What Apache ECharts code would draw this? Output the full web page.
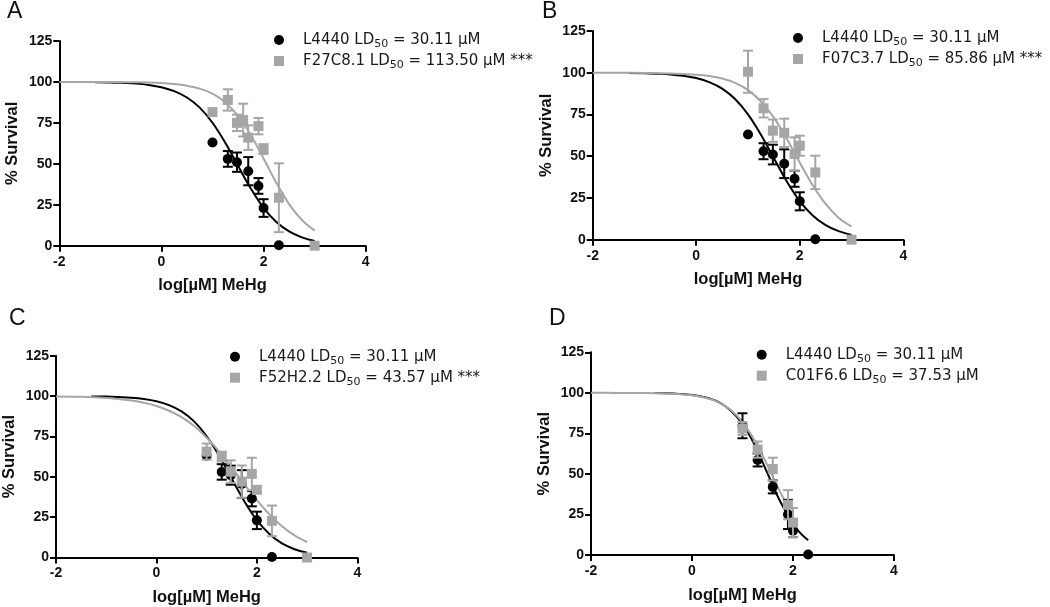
<!DOCTYPE html>
<html>
<head>
<meta charset="utf-8">
<script src="https://cdn.jsdelivr.net/npm/echarts@6/dist/echarts.min.js"></script>
<style>html,body{margin:0;padding:0;background:#fff}#c{width:1050px;height:607px}</style>
</head>
<body>
<div id="c"></div>
<script>
// ---------- tick values ----------
const xTickValues = [-2, 0, 2, 4];
const yTickValues = [0, 25, 50, 75, 100, 125];

// ---------- panel labels / legend texts ----------
const panelLetters = ['A', 'B', 'C', 'D'];
const ctrlName = 'L4440';
const ctrlLD50 = '30.11';
const mutNames = ['F27C8.1', 'F07C3.7', 'F52H2.2', 'C01F6.6'];
const mutLD50 = ['113.50', '85.86', '43.57', '37.53'];
const mutSig = [' ***', ' ***', ' ***', ''];

// ---------- L4440 control data (panels A, B, C) ----------
const ctrlX = [1.0, 1.3, 1.48, 1.7, 1.9, 2.0, 2.3];
const ctrlY = [63, 53, 51, 45.5, 36.5, 23, 0.3];
const ctrlErr = [0, 4.8, 5.9, 8.6, 4.8, 5.4, 0];
const ctrlFitX = [-1.3, -1, -0.75, -0.5, -0.25, 0, 0.25, 0.5, 0.75, 1, 1.25, 1.5, 1.75, 2, 2.25, 2.5, 2.75, 3];
const ctrlFitY = [99.8, 99.7, 99.4, 99.0, 98.2, 96.8, 94.4, 90.5, 84.3, 75.1, 62.9, 48.8, 34.9, 23.1, 14.5, 8.7, 5.1, 2.9];

// ---------- L4440 control data (panel D) ----------
const dCtrlX = [1.0, 1.3, 1.6, 1.9, 2.0, 2.3];
const dCtrlY = [79.7, 58.6, 42, 25, 15, 0.3];
const dCtrlErr = [7.7, 4, 4, 9, 4, 0];
const dCtrlFitX = [-0.75, -0.5, -0.25, 0, 0.25, 0.5, 0.75, 1, 1.25, 1.5, 1.75, 2, 2.15, 2.3];
const dCtrlFitY = [99.85, 99.7, 99.35, 98.7, 97.3, 94.7, 89.6, 80.8, 67.3, 50, 32.8, 19.2, 13.3, 9.1];

// ---------- A: F27C8.1 ----------
const aX = [1.0, 1.3, 1.48, 1.6, 1.7, 1.9, 2.0, 2.3, 3.0];
const aY = [81.6, 89, 75, 76.7, 66, 73, 59, 29.3, 0];
const aErr = [0, 6.5, 5, 10, 7.5, 5, 3, 21, 0];
const aFitX = [-2, -1.5, -1, -0.5, 0, 0.25, 0.5, 0.75, 1, 1.25, 1.5, 1.75, 2, 2.25, 2.5, 2.75, 3];
const aFitY = [100, 99.98, 99.9, 99.8, 99.3, 98.7, 97.7, 95.9, 92.8, 87.5, 79.3, 67.6, 53.3, 38.4, 25.4, 15.7, 9.2];

// ---------- B: F07C3.7 ----------
const bX = [1.0, 1.3, 1.48, 1.7, 1.9, 2.0, 2.3, 3.0];
const bY = [100.6, 78.7, 65.3, 64, 51.3, 56.3, 40.3, 0];
const bErr = [12.6, 5.5, 6.7, 8.5, 10, 6, 10, 0];
const bFitX = [-2, -1.5, -1, -0.5, 0, 0.25, 0.5, 0.75, 1, 1.25, 1.5, 1.75, 2, 2.25, 2.5, 2.75, 3];
const bFitY = [100, 99.96, 99.9, 99.6, 98.8, 98.0, 96.5, 93.9, 89.6, 82.8, 73.1, 60.4, 46.2, 32.6, 21.4, 13.2, 7.9];

// ---------- C: F52H2.2 ----------
const cX = [1.0, 1.3, 1.48, 1.7, 1.9, 2.0, 2.3, 3.0];
const cY = [65.6, 62.5, 53.2, 47, 51.8, 41.9, 22.7, 0];
const cErr = [5, 3, 7, 10, 10, 2, 9.5, 0];
const cFitX = [-2, -1.5, -1, -0.75, -0.5, -0.25, 0, 0.25, 0.5, 0.75, 1, 1.25, 1.5, 1.75, 2, 2.25, 2.5, 2.75, 3];
const cFitY = [99.8, 99.5, 98.8, 98.1, 97.2, 95.8, 93.8, 90.9, 86.9, 81.4, 74.2, 65.6, 55.7, 45.4, 35.5, 26.7, 19.3, 13.7, 9.5];

// ---------- D: C01F6.6 ----------
const dX = [1.0, 1.3, 1.6, 1.9, 2.0];
const dY = [78, 65, 53, 31, 20];
const dErr = [4, 5, 7, 9, 9];
const dFitX = [-2, -1.5, -1, -0.5, 0, 0.25, 0.5, 0.75, 1, 1.25, 1.5, 1.75, 2];
const dFitY = [100, 99.97, 99.9, 99.6, 98.5, 97.1, 94.5, 89.9, 82, 70.2, 54.9, 38.6, 24.4];

// ---------- assemble ----------
const panels = [
  {cx: ctrlX, cy: ctrlY, ce: ctrlErr, cfx: ctrlFitX, cfy: ctrlFitY, mx: aX, my: aY, me: aErr, mfx: aFitX, mfy: aFitY},
  {cx: ctrlX, cy: ctrlY, ce: ctrlErr, cfx: ctrlFitX, cfy: ctrlFitY, mx: bX, my: bY, me: bErr, mfx: bFitX, mfy: bFitY},
  {cx: ctrlX, cy: ctrlY, ce: ctrlErr, cfx: ctrlFitX, cfy: ctrlFitY, mx: cX, my: cY, me: cErr, mfx: cFitX, mfy: cFitY},
  {cx: dCtrlX, cy: dCtrlY, ce: dCtrlErr, cfx: dCtrlFitX, cfy: dCtrlFitY, mx: dX, my: dY, me: dErr, mfx: dFitX, mfy: dFitY}
];

// layout (pixels)
const grids = [
  {left: 59.3, top: 41, width: 306.4, height: 204.7},
  {left: 592.7, top: 31, width: 310.6, height: 208.7},
  {left: 54.3, top: 355.7, width: 303, height: 202},
  {left: 591, top: 352.3, width: 303, height: 202.7}
];
const letterPos = [[7, 0], [542, 0], [9, 307], [549, 307]];
const legendPos = [[274, 32.5], [793, 30.5], [230, 349.2], [756.7, 347.2]];

const BLACK = '#000000';
const GREY = '#a6a6a6';
const FONT = '"Liberation Sans", Arial, sans-serif';

const zip = (xs, ys) => xs.map((x, i) => [x, ys[i]]);
const zip3 = (xs, ys, es) => xs.map((x, i) => [x, ys[i], es[i]]);

function errRender(color) {
  return function (params, api) {
    const x = api.value(0), y = api.value(1), e = api.value(2);
    if (!e) return null;
    const t = api.coord([x, y + e]);
    const b = api.coord([x, y - e]);
    const h = 5;
    const st = {stroke: color, lineWidth: 2};
    return {
      type: 'group',
      children: [
        {type: 'line', shape: {x1: t[0], y1: t[1], x2: b[0], y2: b[1]}, style: st},
        {type: 'line', shape: {x1: t[0] - h, y1: t[1], x2: t[0] + h, y2: t[1]}, style: st},
        {type: 'line', shape: {x1: b[0] - h, y1: b[1], x2: b[0] + h, y2: b[1]}, style: st}
      ]
    };
  };
}

const legendText = {};
const xAxis = [], yAxis = [], series = [], legend = [], title = [];

panels.forEach((p, i) => {
  const L = panelLetters[i];
  const cName = L + '_ctrl', mName = L + '_mut';
  legendText[cName] = '{t|' + ctrlName + ' LD}{s|50}{t| = ' + ctrlLD50 + ' µM}';
  legendText[mName] = '{t|' + mutNames[i] + ' LD}{s|50}{t| = ' + mutLD50[i] + ' µM' + mutSig[i] + '}';

  xAxis.push({
    type: 'value', gridIndex: i,
    min: xTickValues[0], max: xTickValues[xTickValues.length - 1], interval: 2,
    name: 'log[µM] MeHg', nameLocation: 'middle', nameGap: 31.5,
    nameTextStyle: {fontFamily: FONT, fontWeight: 'bold', fontSize: 16.5, color: '#111'},
    axisLine: {show: true, onZero: false, lineStyle: {color: BLACK, width: 2}},
    axisTick: {show: true, length: 6, lineStyle: {color: BLACK, width: 2}},
    axisLabel: {fontFamily: FONT, fontWeight: 'bold', fontSize: 14, color: '#111', margin: 9},
    splitLine: {show: false}
  });
  yAxis.push({
    type: 'value', gridIndex: i,
    min: yTickValues[0], max: yTickValues[yTickValues.length - 1], interval: 25,
    name: '% Survival', nameLocation: 'middle', nameGap: 38,
    nameTextStyle: {fontFamily: FONT, fontWeight: 'bold', fontSize: 16.5, color: '#111'},
    axisLine: {show: true, onZero: false, lineStyle: {color: BLACK, width: 2}},
    axisTick: {show: true, length: 6, lineStyle: {color: BLACK, width: 2}},
    axisLabel: {fontFamily: FONT, fontWeight: 'bold', fontSize: 14, color: '#111', margin: 7},
    splitLine: {show: false}
  });

  series.push({
    name: L + '_ctrl_fit', type: 'line', xAxisIndex: i, yAxisIndex: i, z: 2,
    data: zip(p.cfx, p.cfy), showSymbol: false, symbol: 'none', smooth: 0.35,
    lineStyle: {color: BLACK, width: 2}, silent: true
  });
  series.push({
    name: L + '_mut_fit', type: 'line', xAxisIndex: i, yAxisIndex: i, z: 2,
    data: zip(p.mfx, p.mfy), showSymbol: false, symbol: 'none', smooth: 0.35,
    lineStyle: {color: GREY, width: 2}, silent: true
  });
  series.push({
    name: L + '_ctrl_err', type: 'custom', xAxisIndex: i, yAxisIndex: i, z: 3,
    data: zip3(p.cx, p.cy, p.ce), encode: {x: 0, y: 1}, renderItem: errRender(BLACK), silent: true
  });
  series.push({
    name: cName, type: 'scatter', xAxisIndex: i, yAxisIndex: i, z: 4,
    data: zip(p.cx, p.cy), symbol: 'circle', symbolSize: 10,
    itemStyle: {color: BLACK, opacity: 1}
  });
  series.push({
    name: L + '_mut_err', type: 'custom', xAxisIndex: i, yAxisIndex: i, z: 5,
    data: zip3(p.mx, p.my, p.me), encode: {x: 0, y: 1}, renderItem: errRender(GREY), silent: true
  });
  series.push({
    name: mName, type: 'scatter', xAxisIndex: i, yAxisIndex: i, z: 6,
    data: zip(p.mx, p.my), symbol: 'rect', symbolSize: 10,
    itemStyle: {color: GREY, opacity: 1}
  });

  legend.push({
    orient: 'vertical', left: legendPos[i][0], top: legendPos[i][1], padding: 0,
    itemWidth: 10, itemHeight: 10, itemGap: 4, selectedMode: false,
    data: [{name: cName, icon: 'circle'}, {name: mName, icon: 'rect'}],
    formatter: name => legendText[name],
    textStyle: {
      padding: [0, 0, 0, 14], color: '#1a1a1a',
      rich: {
        t: {fontFamily: '"DejaVu Sans", sans-serif', fontSize: 15, lineHeight: 19, color: '#1a1a1a'},
        s: {fontFamily: '"DejaVu Sans", sans-serif', fontSize: 11, lineHeight: 11, verticalAlign: 'bottom', color: '#1a1a1a'}
      }
    }
  });

  title.push({
    text: L, left: letterPos[i][0], top: letterPos[i][1], padding: 0,
    textStyle: {fontFamily: FONT, fontWeight: 'normal', fontSize: 23, color: '#111'}
  });
});

const chart = echarts.init(document.getElementById('c'), null, {renderer: 'canvas'});
chart.setOption({
  backgroundColor: '#ffffff',
  animation: false,
  title: title,
  legend: legend,
  grid: grids.map(g => Object.assign({containLabel: false}, g)),
  xAxis: xAxis,
  yAxis: yAxis,
  series: series
});
</script>
</body>
</html>
